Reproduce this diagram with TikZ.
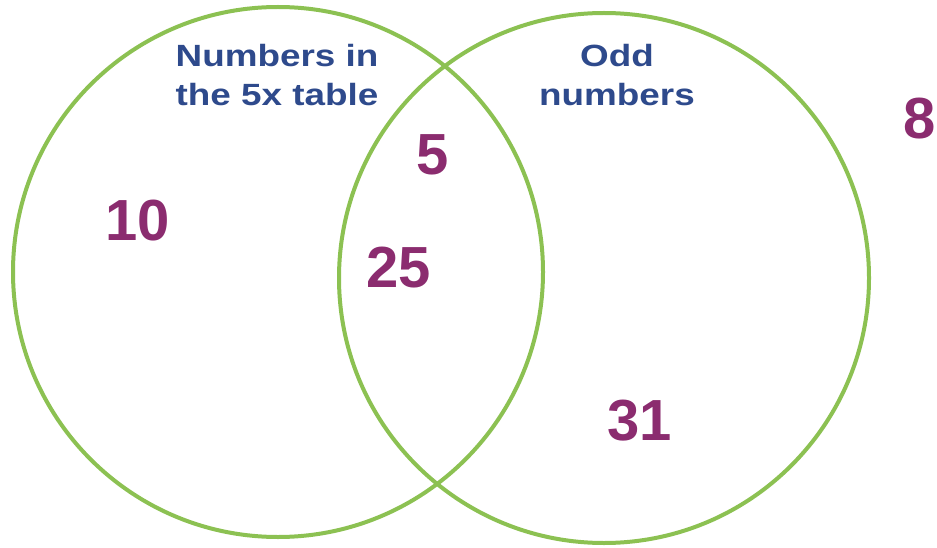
\documentclass[tikz,border=0pt]{standalone}
\usepackage{fontspec}
\setmainfont{Liberation Sans}
\newfontfamily\widesans{Liberation Sans}[FakeStretch=1.2]
\usetikzlibrary{positioning}
\definecolor{vennGreen}{HTML}{8CC152}
\definecolor{vennBlue}{HTML}{2E4A8C}
\definecolor{vennPlum}{HTML}{8B2C6F}
\begin{document}
\begin{tikzpicture}[x=1pt,y=-1pt]
\path[fill=white] (0,0) rectangle (937,548);
\tikzset{ring/.style={draw=vennGreen,line width=4pt,circle,minimum size=530pt,inner sep=0pt},setlabel/.style={text=vennBlue,font=\widesans\bfseries\fontsize{30.7}{39}\selectfont,align=center,inner sep=0pt,anchor=north},entry/.style={text=vennPlum,font=\bfseries\fontsize{58}{58}\selectfont,inner sep=0pt}}
\node[ring] (fives) at (278,272) {};
\node[ring] (odds) at (604,278) {};
\node[setlabel] (fivesname) at (277,44) {Numbers in\\the 5x table};
\node[setlabel] (oddsname) at (617,44) {Odd\\numbers};
\node[entry] (ten) at (138,221) {10};
\node[entry] (five) at (433,155) {5};
\node[entry] (twentyfive) at (399,268) {25};
\node[entry] (thirtyone) at (640,421) {31};
\node[entry] (eight) at (920,119) {8};
\end{tikzpicture}
\end{document}
